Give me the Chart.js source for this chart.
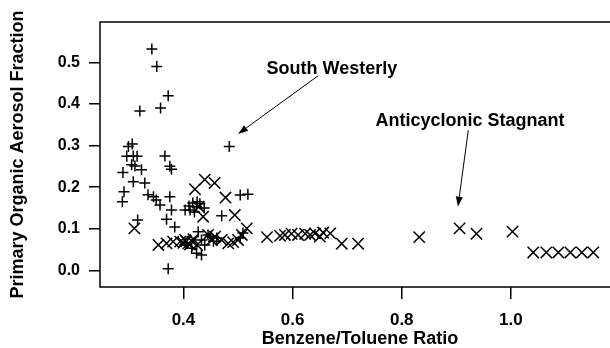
<!DOCTYPE html>
<html>
<head>
<meta charset="utf-8">
<script src="https://cdn.jsdelivr.net/npm/chart.js@4/dist/chart.umd.min.js"></script>
<style>html,body{margin:0;padding:0;background:#fff;overflow:hidden}</style>
</head>
<body>
<canvas id="myChart" width="630" height="348"></canvas>
<script>
// "+" markers
var plusX = [0.342,0.351,0.372,0.358,0.320,0.484,0.299,0.306,0.296,0.308,0.315,0.366,0.305,0.311,0.289,0.323,0.375,0.378,
             0.308,0.329,0.291,0.288,0.335,0.345,0.350,0.357,0.375,0.378,0.403,0.412,0.424,0.430,0.438,0.417,0.316,0.369,
             0.384,0.470,0.504,0.518,0.372,0.415,0.433,0.424,0.433,0.449,0.461,0.504,0.509,0.405,0.439,0.427,0.420,0.410,
             0.425,0.445,0.455];
var plusY = [0.532,0.490,0.420,0.390,0.383,0.298,0.298,0.304,0.274,0.275,0.274,0.275,0.254,0.251,0.235,0.242,0.250,0.243,
             0.213,0.210,0.189,0.165,0.182,0.177,0.169,0.157,0.177,0.145,0.145,0.145,0.153,0.160,0.150,0.162,0.121,0.123,
             0.104,0.131,0.181,0.183,0.004,0.053,0.073,0.041,0.037,0.081,0.078,0.078,0.090,0.066,0.061,0.093,0.140,0.155,
             0.165,0.085,0.070];
// "x" markers
var crossX = [0.310,0.421,0.439,0.457,0.477,0.494,0.516,0.507,0.500,0.436,0.428,0.354,0.369,0.381,0.394,0.403,0.409,0.416,
              0.445,0.458,0.470,0.482,0.491,0.553,0.577,0.586,0.598,0.610,0.623,0.632,0.641,0.650,0.656,0.669,0.690,0.720,
              0.832,0.906,0.937,1.003,1.041,1.065,1.087,1.109,1.130,1.151,0.452,0.425,0.405,0.412,0.400,0.418];
var crossY = [0.101,0.195,0.218,0.210,0.175,0.133,0.101,0.085,0.073,0.129,0.153,0.061,0.065,0.069,0.069,0.073,0.065,0.069,
              0.085,0.081,0.073,0.065,0.068,0.080,0.083,0.085,0.088,0.085,0.088,0.085,0.089,0.081,0.091,0.089,0.064,0.064,
              0.080,0.101,0.088,0.093,0.043,0.043,0.043,0.043,0.043,0.043,0.073,0.061,0.070,0.062,0.066,0.075];

var xTicks = [0.4, 0.6, 0.8, 1.0];
var yTicks = [0.0, 0.1, 0.2, 0.3, 0.4, 0.5];

var noteText = ["South Westerly", "Anticyclonic Stagnant"];
var noteAt = [[0.672, 0.485], [0.925, 0.360]];
var arrowFrom = [[0.647, 0.468], [0.922, 0.337]];
var arrowTo = [[0.500, 0.328], [0.903, 0.153]];

function pts(xs, ys) {
    return xs.map(function(x, i) { return {x: x, y: ys[i]}; });
}

var FONT = "'Liberation Sans', Arial, Helvetica, sans-serif";
Chart.defaults.font.family = FONT;
Chart.defaults.color = '#000';

var framePlugin = {
    id: 'frame',
    afterDraw: function(chart) {
        var ctx = chart.ctx, a = chart.chartArea;
        var xs = chart.scales.x, ys = chart.scales.y;
        ctx.save();
        ctx.strokeStyle = '#000';
        ctx.lineWidth = 1.5;
        ctx.strokeRect(a.left, a.top, a.right - a.left, a.bottom - a.top);

        // annotations
        ctx.font = 'bold 18px ' + FONT;
        ctx.fillStyle = '#000';
        ctx.textAlign = 'center';
        ctx.textBaseline = 'middle';
        ctx.lineWidth = 1;
        noteText.forEach(function(t, i) {
            ctx.fillText(t, xs.getPixelForValue(noteAt[i][0]), ys.getPixelForValue(noteAt[i][1]));
            var x1 = xs.getPixelForValue(arrowFrom[i][0]), y1 = ys.getPixelForValue(arrowFrom[i][1]);
            var x2 = xs.getPixelForValue(arrowTo[i][0]), y2 = ys.getPixelForValue(arrowTo[i][1]);
            var ang = Math.atan2(y2 - y1, x2 - x1), L = 10, W = 3.5;
            var bx = x2 - L * Math.cos(ang), by = y2 - L * Math.sin(ang);
            ctx.beginPath();
            ctx.moveTo(x1, y1);
            ctx.lineTo(bx, by);
            ctx.stroke();
            ctx.beginPath();
            ctx.moveTo(x2, y2);
            ctx.lineTo(bx - W * Math.sin(ang), by + W * Math.cos(ang));
            ctx.lineTo(bx + W * Math.sin(ang), by - W * Math.cos(ang));
            ctx.closePath();
            ctx.fill();
        });
        ctx.restore();
    }
};

var ctx = document.getElementById("myChart").getContext("2d");
var myChart = new Chart(ctx, {
    type: 'scatter',
    data: {
        datasets: [
            {data: pts(plusX, plusY), pointStyle: 'cross', radius: 5.5, borderColor: '#000', borderWidth: 1.5},
            {data: pts(crossX, crossY), pointStyle: 'crossRot', radius: 8, borderColor: '#000', borderWidth: 1.5}
        ]
    },
    options: {
        responsive: false,
        animation: false,
        devicePixelRatio: 1,
        layout: {padding: {left: 0, top: 22, right: 10, bottom: 0}},
        plugins: {legend: {display: false}, tooltip: {enabled: false}},
        scales: {
            x: {
                type: 'linear', min: 0.247, max: 1.2,
                afterFit: function(s) { s.height = 61; },
                afterBuildTicks: function(s) { s.ticks = xTicks.map(function(v) { return {value: v}; }); },
                border: {display: false},
                grid: {drawOnChartArea: false, drawTicks: true, tickLength: 12, color: '#000', lineWidth: 1.5},
                ticks: {padding: 11, font: {size: 17, weight: 'bold'}, maxRotation: 0,
                        callback: function(v) { return v.toFixed(1); }},
                title: {display: true, text: 'Benzene/Toluene Ratio', font: {size: 18, weight: 'bold'},
                        padding: {top: 0, bottom: -2}}
            },
            y: {
                type: 'linear', min: -0.04, max: 0.597,
                afterFit: function(s) { s.width = 100; },
                afterBuildTicks: function(s) { s.ticks = yTicks.map(function(v) { return {value: v}; }); },
                border: {display: false},
                grid: {drawOnChartArea: false, drawTicks: true, tickLength: 11, color: '#000', lineWidth: 1.5},
                ticks: {padding: 9, font: {size: 16, weight: 'bold'},
                        callback: function(v) { return v.toFixed(1); }},
                title: {display: true, text: 'Primary Organic Aerosol Fraction', font: {size: 18, weight: 'bold'},
                        padding: {top: 7, bottom: 0}}
            }
        }
    },
    plugins: [framePlugin]
});
</script>
</body>
</html>
